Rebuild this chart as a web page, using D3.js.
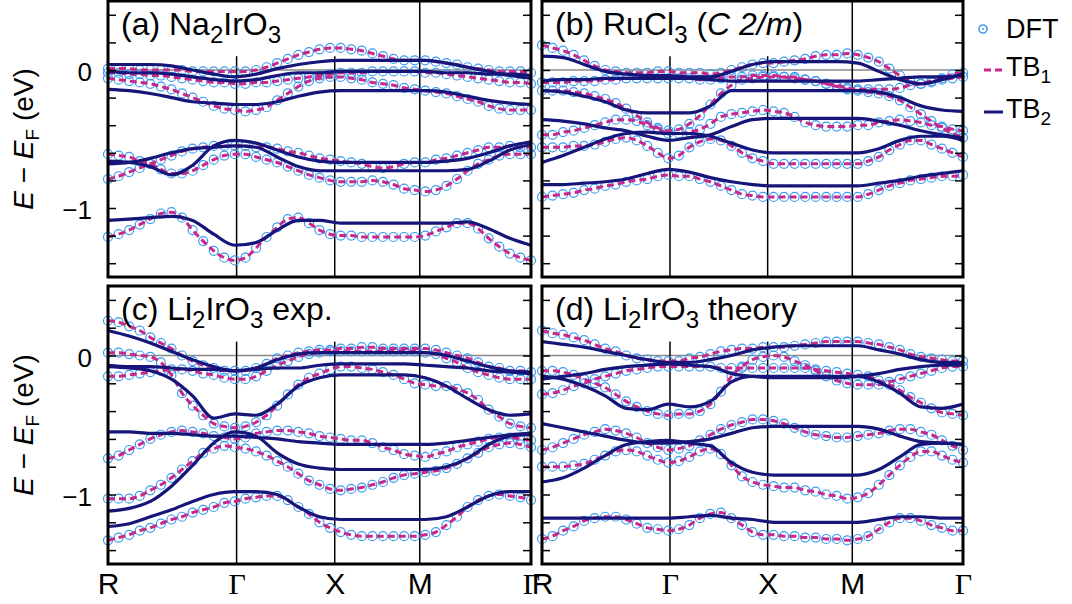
<!DOCTYPE html>
<html><head><meta charset="utf-8">
<script src="https://cdn.jsdelivr.net/npm/d3@7"></script>
<style>body{margin:0;background:#fff}svg{display:block}text{font-family:"Liberation Sans",Arial,sans-serif}</style>
</head><body>
<svg id="chart" width="1072" height="604"></svg>
<script>
// k-path sampling (fractional distance along R-Γ-X-M-Γ)
const kFine = [0,0.025,0.05,0.075,0.1,0.125,0.15,0.175,0.2,0.225,0.25,0.275,0.3,0.325,0.35,0.375,0.4,0.425,0.45,0.475,0.5,0.525,0.55,0.575,0.6,0.625,0.65,0.675,0.7,0.725,0.75,0.775,0.8,0.825,0.85,0.875,0.9,0.925,0.95,0.975,1];
const kCoarse = [0,0.05,0.1,0.15,0.2,0.25,0.3,0.35,0.4,0.45,0.5,0.55,0.6,0.65,0.7,0.75,0.8,0.85,0.9,0.95,1];
const pathLabels = ["R","Γ","X","M","Γ"];
const pathTicks = [0,0.304,0.536,0.737,1];
const yTicks = [-1.4,-1.2,-1,-0.8,-0.6,-0.4,-0.2,0,0.2,0.4];
const yLabelled = [0,-1];

// (a) Na2IrO3 — DFT bands (eV)
const dftA = [
[0.01,0.01,0.01,0.00,0.00,0.00,0.00,0.00,-0.01,-0.01,-0.01,-0.01,-0.01,-0.01,0.00,0.02,0.05,0.08,0.11,0.13,0.15,0.16,0.16,0.15,0.14,0.12,0.10,0.08,0.07,0.07,0.07,0.06,0.05,0.04,0.02,0.01,0.00,-0.01,-0.01,-0.01,-0.02],
[-0.02,-0.02,-0.03,-0.03,-0.04,-0.04,-0.05,-0.06,-0.07,-0.08,-0.09,-0.09,-0.10,-0.10,-0.09,-0.09,-0.08,-0.07,-0.06,-0.05,-0.04,-0.03,-0.02,-0.02,-0.02,-0.01,-0.01,-0.01,-0.01,-0.01,-0.02,-0.02,-0.03,-0.04,-0.05,-0.06,-0.07,-0.08,-0.09,-0.09,-0.10],
[-0.06,-0.07,-0.08,-0.09,-0.10,-0.12,-0.14,-0.17,-0.20,-0.23,-0.26,-0.28,-0.29,-0.30,-0.29,-0.27,-0.22,-0.17,-0.12,-0.08,-0.06,-0.05,-0.05,-0.06,-0.07,-0.09,-0.10,-0.11,-0.13,-0.14,-0.15,-0.16,-0.17,-0.19,-0.21,-0.23,-0.26,-0.28,-0.29,-0.29,-0.29],
[-0.61,-0.62,-0.63,-0.66,-0.68,-0.72,-0.75,-0.75,-0.73,-0.69,-0.65,-0.62,-0.61,-0.61,-0.63,-0.65,-0.67,-0.70,-0.73,-0.76,-0.78,-0.80,-0.81,-0.81,-0.81,-0.80,-0.81,-0.83,-0.86,-0.87,-0.88,-0.87,-0.84,-0.79,-0.73,-0.68,-0.65,-0.62,-0.61,-0.61,-0.61],
[-0.79,-0.77,-0.74,-0.71,-0.68,-0.65,-0.62,-0.59,-0.57,-0.56,-0.55,-0.55,-0.55,-0.55,-0.56,-0.56,-0.57,-0.59,-0.60,-0.62,-0.64,-0.65,-0.66,-0.67,-0.68,-0.70,-0.71,-0.70,-0.68,-0.67,-0.67,-0.65,-0.64,-0.62,-0.60,-0.58,-0.56,-0.56,-0.55,-0.56,-0.56],
[-1.21,-1.19,-1.16,-1.12,-1.08,-1.04,-1.03,-1.07,-1.16,-1.24,-1.31,-1.36,-1.38,-1.36,-1.29,-1.21,-1.14,-1.08,-1.07,-1.11,-1.16,-1.19,-1.20,-1.20,-1.21,-1.21,-1.21,-1.21,-1.21,-1.21,-1.20,-1.17,-1.14,-1.11,-1.11,-1.15,-1.22,-1.28,-1.33,-1.36,-1.38]
];
const tb1A = dftA;
const tb2A = [
[0.04,0.04,0.04,0.03,0.00,-0.03,-0.05,-0.03,0.01,0.04,0.06,0.07,0.07,0.07,0.07,0.07,0.05,0.02,-0.01,-0.04,-0.06],
[-0.01,-0.02,-0.02,-0.03,-0.05,-0.07,-0.08,-0.07,-0.04,-0.02,-0.02,-0.01,-0.01,-0.01,-0.01,-0.01,-0.02,-0.02,-0.03,-0.03,-0.04],
[-0.14,-0.15,-0.17,-0.20,-0.23,-0.24,-0.25,-0.25,-0.23,-0.19,-0.16,-0.15,-0.15,-0.15,-0.15,-0.15,-0.16,-0.19,-0.22,-0.24,-0.25],
[-0.66,-0.67,-0.70,-0.76,-0.69,-0.55,-0.51,-0.53,-0.58,-0.63,-0.66,-0.67,-0.67,-0.67,-0.67,-0.67,-0.66,-0.64,-0.60,-0.55,-0.52],
[-0.68,-0.67,-0.64,-0.60,-0.57,-0.56,-0.55,-0.56,-0.63,-0.70,-0.73,-0.73,-0.73,-0.73,-0.73,-0.73,-0.73,-0.72,-0.66,-0.58,-0.54],
[-1.09,-1.08,-1.07,-1.06,-1.09,-1.19,-1.27,-1.25,-1.16,-1.09,-1.09,-1.11,-1.11,-1.11,-1.11,-1.11,-1.11,-1.10,-1.15,-1.22,-1.27]
];

// (b) RuCl3 (C2/m)
const dftB = [
[0.18,0.16,0.14,0.11,0.07,0.03,0.00,-0.01,-0.02,-0.02,-0.02,-0.01,-0.01,-0.02,-0.02,-0.02,-0.03,-0.02,0.00,0.02,0.04,0.05,0.05,0.06,0.07,0.08,0.10,0.11,0.11,0.12,0.11,0.09,0.06,0.01,-0.04,-0.08,-0.10,-0.09,-0.06,-0.03,-0.02],
[-0.09,-0.09,-0.09,-0.08,-0.08,-0.08,-0.07,-0.07,-0.06,-0.06,-0.06,-0.06,-0.06,-0.06,-0.06,-0.07,-0.07,-0.06,-0.05,-0.05,-0.04,-0.04,-0.04,-0.05,-0.06,-0.07,-0.08,-0.10,-0.11,-0.13,-0.14,-0.14,-0.14,-0.14,-0.13,-0.11,-0.10,-0.08,-0.07,-0.06,-0.05],
[-0.15,-0.15,-0.15,-0.16,-0.17,-0.19,-0.21,-0.24,-0.28,-0.33,-0.38,-0.42,-0.44,-0.43,-0.39,-0.33,-0.25,-0.17,-0.11,-0.07,-0.06,-0.05,-0.05,-0.05,-0.05,-0.07,-0.08,-0.10,-0.12,-0.14,-0.15,-0.16,-0.17,-0.19,-0.22,-0.27,-0.32,-0.37,-0.42,-0.46,-0.49],
[-0.47,-0.47,-0.45,-0.44,-0.42,-0.40,-0.38,-0.36,-0.36,-0.37,-0.40,-0.43,-0.46,-0.46,-0.45,-0.43,-0.39,-0.34,-0.32,-0.31,-0.30,-0.29,-0.30,-0.31,-0.34,-0.38,-0.40,-0.41,-0.41,-0.41,-0.40,-0.40,-0.38,-0.37,-0.36,-0.37,-0.38,-0.40,-0.41,-0.43,-0.44],
[-0.56,-0.56,-0.56,-0.55,-0.55,-0.54,-0.52,-0.50,-0.49,-0.51,-0.55,-0.60,-0.64,-0.62,-0.56,-0.52,-0.50,-0.51,-0.55,-0.60,-0.64,-0.66,-0.68,-0.68,-0.68,-0.68,-0.68,-0.68,-0.68,-0.68,-0.68,-0.66,-0.63,-0.58,-0.54,-0.51,-0.51,-0.54,-0.57,-0.60,-0.63],
[-0.92,-0.91,-0.90,-0.89,-0.87,-0.86,-0.84,-0.83,-0.81,-0.80,-0.79,-0.77,-0.76,-0.77,-0.77,-0.79,-0.81,-0.84,-0.87,-0.90,-0.91,-0.92,-0.92,-0.92,-0.92,-0.92,-0.92,-0.92,-0.92,-0.92,-0.92,-0.90,-0.87,-0.84,-0.82,-0.80,-0.79,-0.78,-0.77,-0.77,-0.76]
];
const tb1B = dftB;
const tb2B = [
[0.10,0.09,0.04,-0.01,-0.03,-0.04,-0.04,-0.05,-0.05,-0.01,0.04,0.06,0.06,0.06,0.06,0.05,-0.01,-0.07,-0.10,-0.07,-0.03],
[-0.08,-0.07,-0.07,-0.06,-0.06,-0.06,-0.06,-0.06,-0.07,-0.08,-0.08,-0.08,-0.08,-0.08,-0.08,-0.08,-0.07,-0.06,-0.05,-0.05,-0.04],
[-0.15,-0.16,-0.19,-0.23,-0.29,-0.31,-0.31,-0.31,-0.26,-0.15,-0.15,-0.15,-0.15,-0.15,-0.15,-0.15,-0.16,-0.20,-0.26,-0.29,-0.30],
[-0.36,-0.37,-0.39,-0.42,-0.44,-0.48,-0.51,-0.49,-0.47,-0.41,-0.36,-0.35,-0.35,-0.35,-0.35,-0.35,-0.37,-0.40,-0.44,-0.47,-0.49],
[-0.67,-0.62,-0.56,-0.50,-0.46,-0.45,-0.46,-0.46,-0.48,-0.53,-0.58,-0.60,-0.60,-0.60,-0.60,-0.60,-0.57,-0.51,-0.48,-0.48,-0.51],
[-0.83,-0.83,-0.82,-0.81,-0.79,-0.75,-0.72,-0.74,-0.78,-0.81,-0.83,-0.84,-0.84,-0.84,-0.84,-0.84,-0.82,-0.80,-0.77,-0.75,-0.73]
];

// (c) Li2IrO3 exp.
const dftC = [
[0.25,0.24,0.21,0.18,0.13,0.09,0.05,0.00,-0.04,-0.07,-0.09,-0.11,-0.11,-0.11,-0.09,-0.06,-0.02,0.00,0.02,0.03,0.04,0.04,0.05,0.05,0.06,0.06,0.05,0.05,0.05,0.05,0.05,0.04,0.02,0.00,-0.02,-0.05,-0.08,-0.09,-0.11,-0.11,-0.12],
[0.02,0.02,0.01,0.00,-0.01,-0.05,-0.14,-0.27,-0.36,-0.43,-0.49,-0.51,-0.52,-0.51,-0.48,-0.43,-0.36,-0.28,-0.21,-0.16,-0.13,-0.10,-0.08,-0.08,-0.09,-0.10,-0.12,-0.14,-0.17,-0.20,-0.21,-0.22,-0.22,-0.24,-0.27,-0.32,-0.39,-0.44,-0.49,-0.51,-0.52],
[-0.15,-0.15,-0.14,-0.13,-0.12,-0.11,-0.10,-0.10,-0.11,-0.13,-0.14,-0.16,-0.17,-0.17,-0.15,-0.11,-0.07,-0.04,-0.01,0.01,0.02,0.03,0.03,0.03,0.03,0.03,0.03,0.03,0.03,0.03,0.02,0.01,-0.02,-0.05,-0.09,-0.12,-0.14,-0.16,-0.17,-0.17,-0.17],
[-0.74,-0.72,-0.68,-0.64,-0.60,-0.57,-0.55,-0.54,-0.55,-0.56,-0.58,-0.59,-0.60,-0.59,-0.56,-0.55,-0.54,-0.54,-0.55,-0.56,-0.58,-0.59,-0.60,-0.61,-0.61,-0.63,-0.66,-0.68,-0.71,-0.72,-0.73,-0.71,-0.69,-0.66,-0.64,-0.62,-0.60,-0.59,-0.59,-0.60,-0.61],
[-1.03,-1.03,-1.03,-1.01,-0.97,-0.93,-0.88,-0.82,-0.76,-0.70,-0.67,-0.65,-0.66,-0.67,-0.69,-0.72,-0.76,-0.80,-0.85,-0.90,-0.93,-0.96,-0.97,-0.96,-0.95,-0.93,-0.91,-0.88,-0.86,-0.85,-0.84,-0.83,-0.81,-0.78,-0.74,-0.70,-0.66,-0.64,-0.63,-0.64,-0.66],
[-1.33,-1.31,-1.29,-1.26,-1.24,-1.21,-1.18,-1.16,-1.13,-1.11,-1.09,-1.06,-1.05,-1.03,-1.02,-1.01,-1.01,-1.04,-1.09,-1.14,-1.20,-1.24,-1.27,-1.29,-1.30,-1.30,-1.30,-1.30,-1.30,-1.30,-1.29,-1.27,-1.22,-1.16,-1.09,-1.04,-1.01,-1.00,-1.01,-1.02,-1.04]
];
const tb1C = dftC;
const tb2C = [
[0.18,0.14,0.09,0.03,-0.03,-0.08,-0.11,-0.09,-0.03,0.01,0.02,0.02,0.02,0.02,0.02,0.02,0.00,-0.04,-0.08,-0.11,-0.12],
[-0.07,-0.08,-0.08,-0.09,-0.10,-0.10,-0.11,-0.10,-0.09,-0.09,-0.07,-0.06,-0.06,-0.06,-0.06,-0.07,-0.08,-0.09,-0.11,-0.12,-0.13],
[-0.08,-0.09,-0.11,-0.17,-0.29,-0.45,-0.42,-0.43,-0.35,-0.22,-0.16,-0.14,-0.14,-0.14,-0.14,-0.16,-0.22,-0.31,-0.39,-0.43,-0.42],
[-0.55,-0.55,-0.56,-0.56,-0.57,-0.58,-0.58,-0.59,-0.60,-0.62,-0.63,-0.64,-0.64,-0.64,-0.64,-0.64,-0.63,-0.61,-0.59,-0.57,-0.56],
[-1.12,-1.10,-1.05,-0.94,-0.79,-0.63,-0.55,-0.58,-0.70,-0.78,-0.81,-0.82,-0.82,-0.82,-0.82,-0.82,-0.80,-0.74,-0.64,-0.58,-0.57],
[-1.23,-1.21,-1.16,-1.11,-1.05,-1.00,-0.98,-0.98,-1.00,-1.09,-1.16,-1.18,-1.18,-1.18,-1.18,-1.18,-1.16,-1.09,-1.01,-0.98,-0.98]
];

// (d) Li2IrO3 theory
const dftD = [
[0.18,0.16,0.15,0.13,0.11,0.08,0.05,0.03,0.00,-0.02,-0.03,-0.04,-0.04,-0.04,-0.02,-0.01,0.01,0.03,0.04,0.05,0.05,0.06,0.06,0.06,0.07,0.08,0.09,0.10,0.10,0.10,0.10,0.09,0.08,0.06,0.04,0.01,-0.01,-0.02,-0.03,-0.04,-0.04],
[-0.11,-0.11,-0.12,-0.14,-0.17,-0.20,-0.23,-0.28,-0.33,-0.37,-0.40,-0.42,-0.43,-0.42,-0.42,-0.40,-0.35,-0.26,-0.15,-0.08,-0.03,-0.01,0.00,-0.01,-0.04,-0.07,-0.11,-0.15,-0.18,-0.20,-0.21,-0.21,-0.21,-0.19,-0.17,-0.15,-0.13,-0.11,-0.09,-0.08,-0.08],
[-0.28,-0.27,-0.25,-0.22,-0.20,-0.17,-0.15,-0.13,-0.11,-0.10,-0.09,-0.08,-0.08,-0.08,-0.08,-0.08,-0.08,-0.09,-0.09,-0.09,-0.09,-0.09,-0.09,-0.09,-0.09,-0.09,-0.10,-0.11,-0.12,-0.13,-0.14,-0.15,-0.18,-0.21,-0.25,-0.30,-0.34,-0.38,-0.41,-0.42,-0.43],
[-0.68,-0.66,-0.63,-0.60,-0.57,-0.55,-0.53,-0.54,-0.56,-0.59,-0.63,-0.66,-0.68,-0.67,-0.65,-0.61,-0.57,-0.53,-0.50,-0.48,-0.46,-0.46,-0.47,-0.49,-0.52,-0.55,-0.57,-0.58,-0.59,-0.59,-0.58,-0.57,-0.56,-0.54,-0.53,-0.53,-0.55,-0.57,-0.61,-0.65,-0.68],
[-0.80,-0.80,-0.80,-0.79,-0.78,-0.75,-0.72,-0.69,-0.68,-0.69,-0.72,-0.75,-0.77,-0.76,-0.73,-0.69,-0.67,-0.71,-0.79,-0.87,-0.91,-0.93,-0.94,-0.95,-0.95,-0.97,-0.98,-1.00,-1.01,-1.03,-1.02,-0.99,-0.93,-0.86,-0.79,-0.73,-0.69,-0.69,-0.72,-0.75,-0.77],
[-1.32,-1.30,-1.26,-1.23,-1.19,-1.17,-1.16,-1.16,-1.18,-1.21,-1.24,-1.25,-1.26,-1.25,-1.22,-1.17,-1.14,-1.13,-1.17,-1.22,-1.27,-1.29,-1.29,-1.30,-1.30,-1.31,-1.31,-1.32,-1.32,-1.33,-1.32,-1.30,-1.25,-1.20,-1.17,-1.17,-1.19,-1.22,-1.24,-1.26,-1.26]
];
const tb1D = dftD;
const tb2D = [
[0.10,0.08,0.06,0.03,0.00,-0.03,-0.05,-0.05,-0.03,0.00,0.04,0.06,0.07,0.07,0.07,0.07,0.04,0.01,-0.03,-0.05,-0.05],
[-0.17,-0.15,-0.13,-0.10,-0.08,-0.07,-0.06,-0.07,-0.08,-0.13,-0.15,-0.16,-0.16,-0.16,-0.16,-0.15,-0.13,-0.10,-0.08,-0.07,-0.07],
[-0.15,-0.17,-0.22,-0.29,-0.38,-0.39,-0.35,-0.37,-0.33,-0.19,-0.15,-0.15,-0.15,-0.15,-0.15,-0.15,-0.19,-0.27,-0.37,-0.38,-0.35],
[-0.49,-0.52,-0.55,-0.58,-0.61,-0.63,-0.63,-0.62,-0.60,-0.56,-0.52,-0.51,-0.51,-0.51,-0.51,-0.51,-0.53,-0.58,-0.62,-0.63,-0.64],
[-0.91,-0.88,-0.81,-0.72,-0.64,-0.62,-0.61,-0.63,-0.65,-0.77,-0.84,-0.86,-0.86,-0.86,-0.86,-0.86,-0.82,-0.73,-0.64,-0.63,-0.64],
[-1.17,-1.17,-1.17,-1.17,-1.17,-1.17,-1.17,-1.16,-1.15,-1.17,-1.18,-1.20,-1.20,-1.20,-1.20,-1.20,-1.18,-1.16,-1.16,-1.17,-1.17]
];

const titleA = [{t:"(a) Na"},{t:"2",sub:1},{t:"IrO"},{t:"3",sub:1}];
const titleB = [{t:"(b) RuCl"},{t:"3",sub:1},{t:" ("},{t:"C 2/m",it:1},{t:")"}];
const titleC = [{t:"(c) Li"},{t:"2",sub:1},{t:"IrO"},{t:"3",sub:1},{t:" exp."}];
const titleD = [{t:"(d) Li"},{t:"2",sub:1},{t:"IrO"},{t:"3",sub:1},{t:" theory"}];
const legendItems = [{name:"DFT"},{name:"TB",sub:"1"},{name:"TB",sub:"2"}];

// ---- styles ----
const C_DFT = "#3b9bf2", C_TB1 = "#c6298b", C_TB2 = "#15157a";

const svg = d3.select("#chart");
const panels = [
  {x0:108,x1:531,y0:1,y1:277,dft:dftA,tb1:tb1A,tb2:tb2A,title:titleA,left:true,bottom:false},
  {x0:542,x1:963,y0:1,y1:277,dft:dftB,tb1:tb1B,tb2:tb2B,title:titleB,left:false,bottom:false},
  {x0:108,x1:531,y0:286,y1:564,dft:dftC,tb1:tb1C,tb2:tb2C,title:titleC,left:true,bottom:true},
  {x0:542,x1:963,y0:286,y1:564,dft:dftD,tb1:tb1D,tb2:tb2D,title:titleD,left:false,bottom:true}
];

function addRich(sel, parts, subSize, subDy) {
  let shifted = 0;
  parts.forEach(p => {
    const ts = sel.append("tspan").text(p.t);
    if (p.sub) { ts.attr("font-size", subSize).attr("dy", subDy - shifted); shifted = subDy; }
    else if (shifted) { ts.attr("dy", -shifted); shifted = 0; }
    if (p.it) ts.attr("font-style","italic");
  });
}

panels.forEach(p => {
  const x = d3.scaleLinear().domain([0,1]).range([p.x0,p.x1]);
  const y = d3.scaleLinear().domain([-1.5,0.5]).range([p.y1,p.y0]);
  const g = svg.append("g");

  // Fermi level
  g.append("line").attr("x1",x(0)).attr("x2",x(1)).attr("y1",y(0)).attr("y2",y(0))
    .attr("stroke","#8a8a8a").attr("stroke-width",1.5);
  // high-symmetry verticals
  [1,2,3].forEach(i => {
    g.append("line").attr("x1",x(pathTicks[i])).attr("x2",x(pathTicks[i]))
      .attr("y1",y(-1.5)).attr("y2", i===3 ? y(0.5) : y(0.1))
      .attr("stroke","#000").attr("stroke-width",1.5);
  });

  // DFT circles
  p.dft.forEach(band => {
    g.append("g").selectAll("circle").data(band).join("circle")
      .attr("cx",(d,i)=>x(kFine[i])).attr("cy",d=>y(d)).attr("r",4.5)
      .attr("fill","none").attr("stroke",C_DFT).attr("stroke-width",1.2);
  });
  // TB1 dashed
  const lineF = d3.line().x((d,i)=>x(kFine[i])).y(d=>y(d)).curve(d3.curveMonotoneX);
  p.tb1.forEach(band => {
    g.append("path").attr("d",lineF(band)).attr("fill","none").attr("stroke",C_TB1)
      .attr("stroke-width",3).attr("stroke-dasharray","7,4");
  });
  // TB2 solid
  const lineC = d3.line().x((d,i)=>x(kCoarse[i])).y(d=>y(d)).curve(d3.curveMonotoneX);
  p.tb2.forEach(band => {
    g.append("path").attr("d",lineC(band)).attr("fill","none").attr("stroke",C_TB2)
      .attr("stroke-width",3.2);
  });

  // y axes (inward ticks)
  const axL = d3.axisLeft(y).tickValues(yTicks).tickSize(-8).tickPadding(16)
    .tickFormat(d => (p.left && yLabelled.includes(d)) ? (d<0 ? "−"+Math.abs(d) : String(d)) : "");
  const gl = g.append("g").attr("transform",`translate(${p.x0},0)`).call(axL);
  gl.select(".domain").remove();
  gl.selectAll("line").attr("stroke","#000").attr("stroke-width",1.5);
  gl.selectAll("text").attr("font-size",26).attr("dy","0.42em").attr("fill","#000")
    .style("font-family","'Liberation Sans',Arial,sans-serif");
  const axR = d3.axisRight(y).tickValues(yTicks).tickSize(-8).tickFormat("");
  const gr = g.append("g").attr("transform",`translate(${p.x1},0)`).call(axR);
  gr.select(".domain").remove();
  gr.selectAll("line").attr("stroke","#000").attr("stroke-width",1.5);

  // x axis labels
  if (p.bottom) {
    const axB = d3.axisBottom(x).tickValues(pathTicks).tickSize(0).tickPadding(9)
      .tickFormat((d,i)=>pathLabels[i]);
    const gb = g.append("g").attr("transform",`translate(0,${p.y1})`).call(axB);
    gb.select(".domain").remove();
    gb.selectAll("text").attr("font-size",30).attr("fill","#000")
      .style("font-family", d => pathLabels[pathTicks.indexOf(d)]==="Γ" ? "'Liberation Serif','Times New Roman',serif" : "'Liberation Sans',Arial,sans-serif");
  }

  // frame
  g.append("rect").attr("x",p.x0).attr("y",p.y0).attr("width",p.x1-p.x0).attr("height",p.y1-p.y0)
    .attr("fill","none").attr("stroke","#000").attr("stroke-width",3);

  // title
  const t = g.append("text").attr("x",p.x0+13).attr("y",p.y0+34).attr("font-size",32).attr("fill","#000");
  addRich(t, p.title, 24, 8);
});

// y-axis titles
[139, 425].forEach(cy => {
  const t = svg.append("text").attr("transform",`translate(33,${cy}) rotate(-90)`)
    .attr("text-anchor","middle").attr("font-size",28).attr("fill","#000");
  t.append("tspan").attr("font-style","italic").text("E");
  t.append("tspan").text(" − ");
  t.append("tspan").attr("font-style","italic").text("E");
  t.append("tspan").attr("font-size",19).attr("dy",6).text("F");
  t.append("tspan").attr("dy",-6).text(" (eV)");
});

// legend
const lg = svg.append("g");
lg.append("circle").attr("cx",983).attr("cy",29).attr("r",4).attr("fill","none").attr("stroke",C_DFT).attr("stroke-width",1.6);
lg.append("circle").attr("cx",983).attr("cy",29).attr("r",1).attr("fill",C_DFT);
lg.append("line").attr("x1",984).attr("x2",1002).attr("y1",70).attr("y2",70).attr("stroke",C_TB1).attr("stroke-width",3).attr("stroke-dasharray","7,4");
lg.append("line").attr("x1",984).attr("x2",1003).attr("y1",112).attr("y2",112).attr("stroke",C_TB2).attr("stroke-width",3);
[38, 76, 118].forEach((by, i) => {
  const it = legendItems[i];
  const t = lg.append("text").attr("x",1006).attr("y",by).attr("font-size",27).attr("fill","#000");
  t.append("tspan").text(it.name);
  if (it.sub) t.append("tspan").attr("font-size",19).attr("dy",7).text(it.sub);
});
</script>
</body></html>
